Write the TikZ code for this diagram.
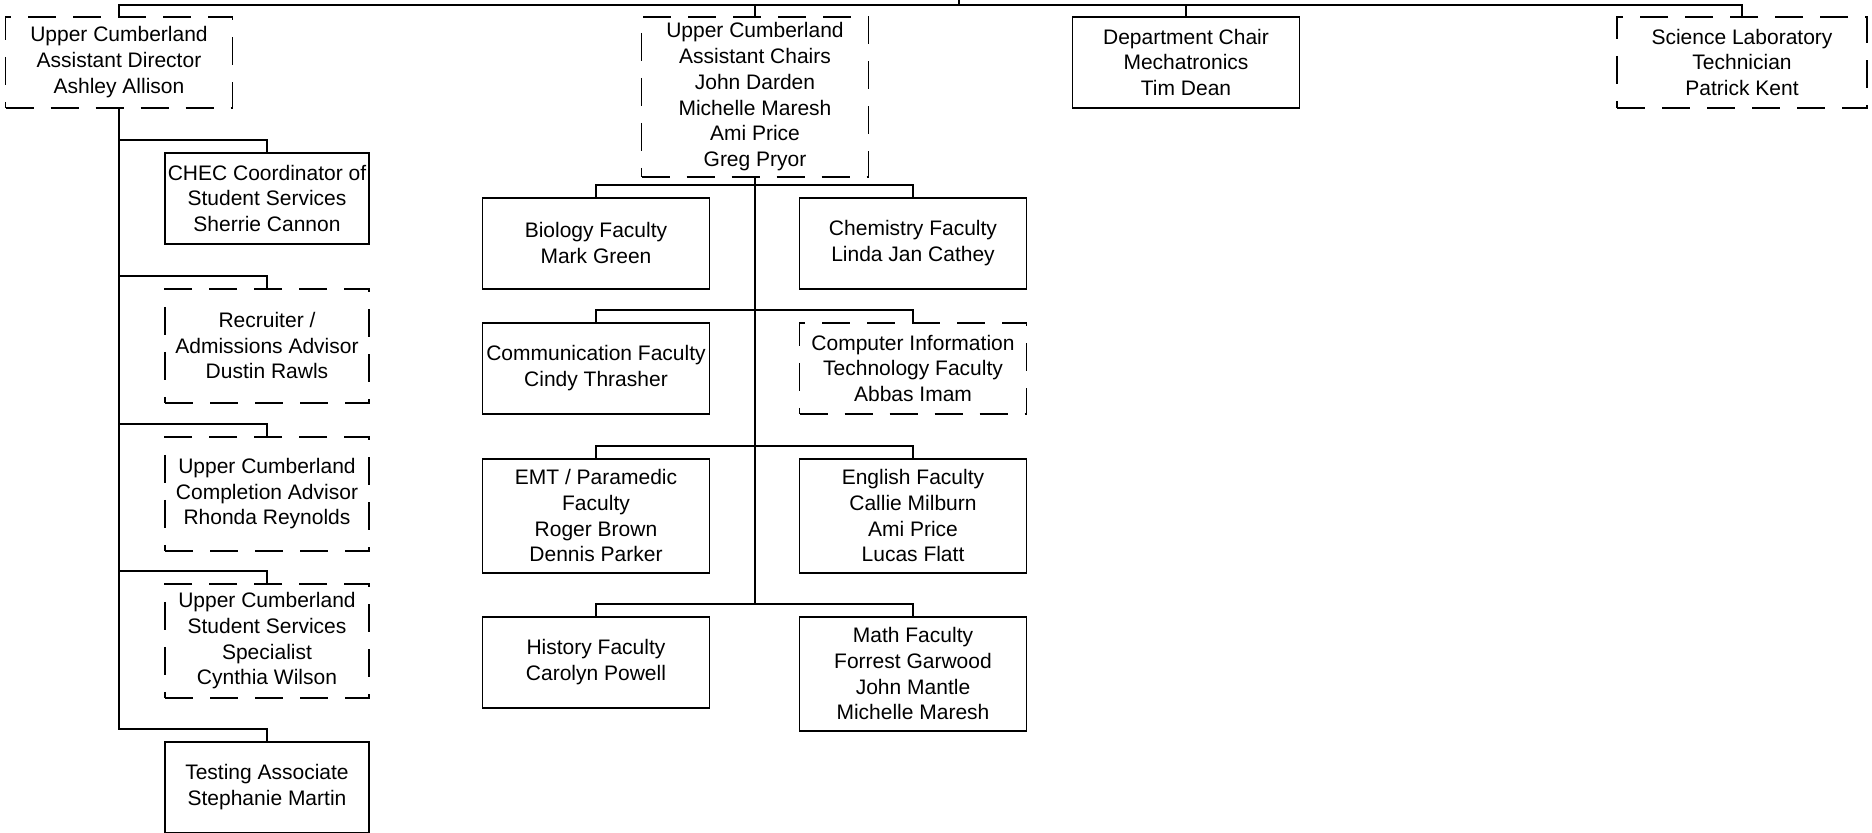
\documentclass[tikz,border=0pt]{standalone}
\usepackage{fontspec}
\setmainfont{Liberation Sans}
\usetikzlibrary{positioning, calc}

\begin{document}
\begin{tikzpicture}[x=0.5pt, y=-0.5pt,
    box/.style={draw, line width=0.75pt, rectangle, align=center, anchor=north,
        inner sep=1pt, minimum width=113.5pt, minimum height=45.5pt,
        font=\fontsize{10.5}{12.85}\selectfont},
    vacant/.style={box, dash pattern=on 14pt off 8.5pt},
    link/.style={line width=0.8pt},
    trunk/.style={line width=1.1pt}]
    \useasboundingbox (0,0) rectangle (1872,832);

    % Top row
    \coordinate (root) at (959,0);
    \coordinate (bus) at (959,5);
    \node[vacant] (ad) at (119,16) {Upper Cumberland\\Assistant Director\\Ashley Allison};
    \node[vacant, minimum height=80pt] (chairs) at (755,16) {Upper Cumberland\\Assistant Chairs\\John Darden\\Michelle Maresh\\Ami Price\\Greg Pryor};
    \node[box] (dept) at (1186,16) {Department Chair\\Mechatronics\\Tim Dean};
    \node[vacant, minimum width=125pt] (sci) at (1742,16) {Science Laboratory\\Technician\\Patrick Kent};

    % Staff under the assistant director
    \node[box, minimum width=102pt] (chec) at (267,152) {CHEC Coordinator of\\Student Services\\Sherrie Cannon};
    \node[vacant, minimum width=102pt, minimum height=57pt] (recr) at (267,288) {Recruiter /\\Admissions Advisor\\Dustin Rawls};
    \node[vacant, minimum width=102pt, minimum height=57pt] (compl) at (267,436) {Upper Cumberland\\Completion Advisor\\Rhonda Reynolds};
    \node[vacant, minimum width=102pt, minimum height=57pt] (spec) at (267,583) {Upper Cumberland\\Student Services\\Specialist\\Cynthia Wilson};
    \node[box, minimum width=102pt] (test) at (267,741) {Testing Associate\\Stephanie Martin};

    % Faculty under the assistant chairs
    \node[box] (bio) at (596,197) {Biology Faculty\\Mark Green};
    \node[box] (chem) at (913,197) {Chemistry Faculty\\Linda Jan Cathey};
    \node[box] (comm) at (596,322) {Communication Faculty\\Cindy Thrasher};
    \node[vacant] (cit) at (913,322) {Computer Information\\Technology Faculty\\Abbas Imam};
    \node[box, minimum height=57pt] (emt) at (596,458) {EMT / Paramedic\\Faculty\\Roger Brown\\Dennis Parker};
    \node[box, minimum height=57pt] (eng) at (913,458) {English Faculty\\Callie Milburn\\Ami Price\\Lucas Flatt};
    \node[box] (hist) at (596,616) {History Faculty\\Carolyn Powell};
    \node[box, minimum height=57pt] (math) at (913,616) {Math Faculty\\Forrest Garwood\\John Mantle\\Michelle Maresh};

    % Connectors
    \draw[link] (root) -- (bus);
    \foreach \n in {ad,chairs,dept,sci} \draw[link] (bus) -| (\n.north);
    \foreach \n in {chec,recr,compl,spec,test} \draw[link] (ad.south) |- ([yshift=6pt]\n.north) -- (\n.north);
    \foreach \n in {bio,chem,comm,cit,emt,eng,hist,math} \draw[link] (chairs.south) |- ([yshift=6pt]\n.north) -- (\n.north);
    \draw[trunk] (chairs.south) -- ($(chairs.south |- hist.north)+(0,6pt)$);
\end{tikzpicture}
\end{document}
